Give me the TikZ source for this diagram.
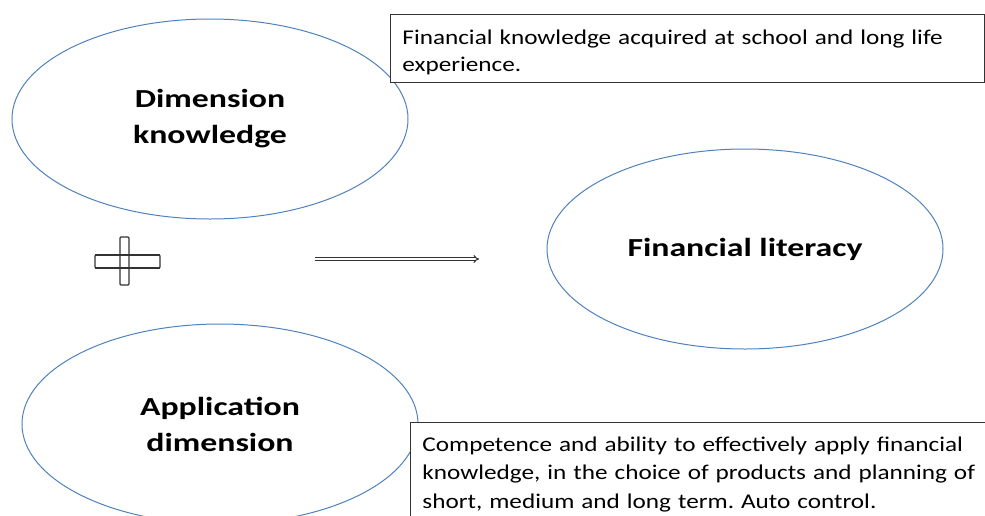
\documentclass[tikz,border=0pt]{standalone}
\usepackage{fontspec}
\setmainfont{Carlito}[FakeStretch=1.2]
\newfontfamily\widebold{Carlito}[FakeStretch=1.3,UprightFont=*-Bold]
\usetikzlibrary{shapes.geometric,arrows.meta,positioning}
\definecolor{ellblue}{RGB}{79,129,189}
\frenchspacing
\tikzset{
  dimellipse/.style={ellipse,draw=ellblue,line width=1pt,minimum width=396pt,minimum height=200pt,
    align=center,font=\widebold\fontsize{26}{36}\selectfont},
  notebox/.style={draw=black!80,line width=0.9pt,align=left,anchor=north west,inner xsep=12pt,
    font=\fontsize{21}{27.5}\selectfont},
  plusbar/.style={draw=black!80,line width=1.2pt,fill=white,rounded corners=1pt}
}
\begin{document}
\begin{tikzpicture}[x=1pt,y=-1pt]
  \useasboundingbox (0,0) rectangle (985,515);
  \clip (0,0) rectangle (985,515);
  %ellipses
  \node[dimellipse] (knowledge) at (210,119) {Dimension\\knowledge};
  \node[dimellipse] (literacy) at (745,249) {Financial literacy};
  \node[dimellipse] (application) at (220,424) {Application\\dimension};
  %notes
  \node[notebox,fill=white,text width=570pt,minimum height=68pt,inner ysep=3pt] (knowledgenote) at (390,14)
    {\rule{0pt}{22pt}Financial knowledge acquired at school and long life\\experience.};
  \node[notebox,fill=white,text width=600pt,minimum height=104pt,inner ysep=3pt,font=\fontsize{21}{28.5}\selectfont] (applicationnote) at (410,422)
    {Competence and ability to effectively apply financial\\knowledge, in the choice of products and planning of\\short, medium and long term. Auto control.};
  %plus
  \draw[plusbar] (95,255) rectangle (160,268);
  \draw[plusbar] (120,237) rectangle (129,285);
  \draw[black!80,line width=1.2pt] (95,255) -- (160,255) (95,268) -- (160,268);
  %arrow
  \coordinate (arrowstart) at (315,259);
  \coordinate (arrowend) at (479,259);
  \draw[black!80,line width=1pt,double=white,double distance=1.6pt,-{Implies}] (arrowstart) -- (arrowend);
\end{tikzpicture}
\end{document}
